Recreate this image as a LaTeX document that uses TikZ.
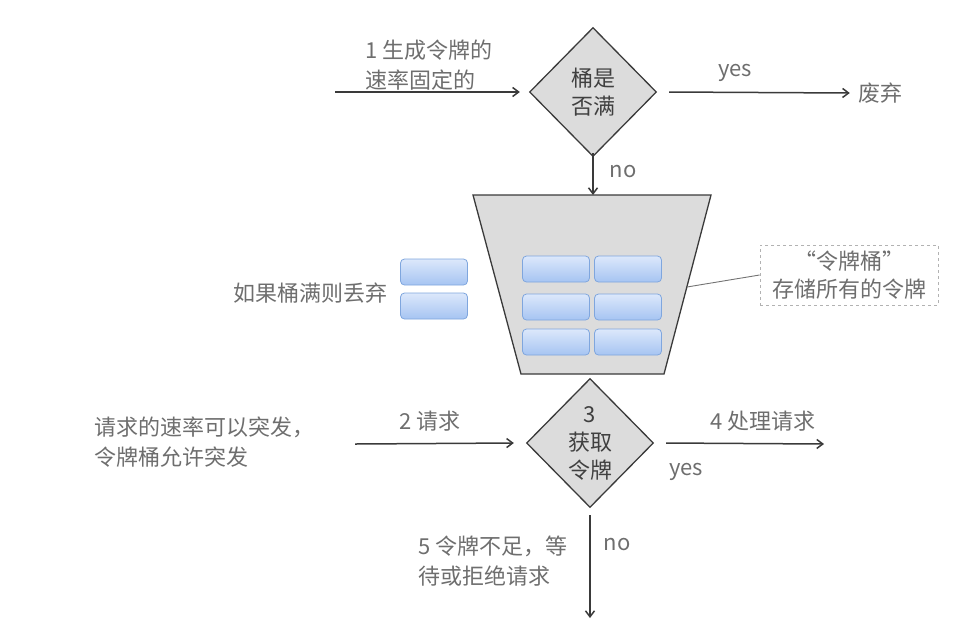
\documentclass[tikz,border=0pt]{standalone}
\usepackage{fontspec}
\newfontfamily\cjk{Noto Sans CJK SC}
\usetikzlibrary{shapes.geometric,arrows.meta}
\definecolor{inkline}{HTML}{3A3A3A}
\definecolor{labelgray}{HTML}{6E6E6E}
\definecolor{boxgray}{HTML}{DCDCDC}
\definecolor{tokentop}{HTML}{DCE8FB}
\definecolor{tokenbot}{HTML}{A6C4F2}
\definecolor{tokenedge}{HTML}{7FA6DE}
\tikzset{
  txt/.style={font=\cjk\fontsize{22}{29.5}\selectfont, text=labelgray, align=left, inner sep=0pt},
  decision/.style={diamond, draw=inkline, line width=1.3pt, fill=boxgray, aspect=1,
    minimum width=127pt, minimum height=129pt, inner sep=0pt,
    font=\cjk\fontsize{22}{28}\selectfont, text=black!75, align=center},
  flow/.style={draw=inkline, line width=1.5pt, -{Straight Barb[length=6pt,width=9pt,line width=1.5pt]}},
  token/.style={rectangle, rounded corners=4pt, draw=tokenedge, line width=0.8pt,
    top color=tokentop, bottom color=tokenbot, minimum width=67pt, minimum height=26pt, inner sep=0pt},
  callout/.style={draw=black!30, dashed, line width=0.8pt, inner sep=0pt,
    minimum width=178pt, minimum height=60pt, font=\cjk\fontsize{22}{28}\selectfont,
    text=labelgray, align=center}
}
\begin{document}
\begin{tikzpicture}[x=1pt,y=-1pt]
\useasboundingbox (0,0) rectangle (974,641);

% --- generation of tokens at a fixed rate ---
\node[decision] (full) at (593,92) {桶是\\否满};
\coordinate (genstart) at (335,92);
\draw[flow] (genstart) -- ([xshift=-9pt]full.west);
\node[txt] (genlbl) at (429,65) {1 生成令牌的\\速率固定的};

\node[txt] (discard) at (880,93) {废弃};
\draw[flow] ([xshift=12pt]full.east) -- ([xshift=-8pt]discard.west);
\node[txt] (yes1) at (735,73) {yes};

% --- the bucket ---
\coordinate (b-nw) at (473,195);
\coordinate (b-ne) at (711,195);
\coordinate (b-se) at (664,374);
\coordinate (b-sw) at (521,374);
\coordinate (b-n) at (593,195);
\coordinate (b-side) at (687,287);
\draw[draw=inkline, line width=1.3pt, fill=boxgray] (b-nw) -- (b-ne) -- (b-se) -- (b-sw) -- cycle;

\draw[flow] ([yshift=4pt]full.south) -- (b-n);
\node[txt] (no1) at (623,172) {no};

% tokens stored in the bucket
\node[token] (t11) at (556,269) {};
\node[token] (t12) at (628,269) {};
\node[token] (t21) at (556,307) {};
\node[token] (t22) at (628,307) {};
\node[token] (t31) at (556,342) {};
\node[token] (t32) at (628,342) {};

% tokens dropped when the bucket is full
\node[token] (d1) at (434,272) {};
\node[token] (d2) at (434,306) {};
\node[txt] (droplbl) at (310,293) {如果桶满则丢弃};

% callout
\node[callout] (note) at (849,275) {“令牌桶”\\存储所有的令牌};
\draw[draw=black!55, line width=0.9pt] (b-side) -- (note.west);

% --- requests ---
\node[decision] (take) at (590,443) {3\\获取\\令牌};
\coordinate (reqstart) at (355,444);
\draw[flow] (reqstart) -- ([xshift=-12pt]take.west);
\node[txt] (reqlbl) at (430,421) {2 请求};
\node[txt] (burst) at (204,442) {请求的速率可以突发，\\令牌桶允许突发};

\coordinate (okend) at (824,444);
\draw[flow] ([xshift=12pt]take.east) -- (okend);
\node[txt] (oklbl) at (763,421) {4 处理请求};
\node[txt] (yes2) at (686,472) {yes};

\coordinate (waitend) at (590,618);
\draw[flow] ([yshift=-7pt]take.south) -- (waitend);
\node[txt] (no2) at (617,545) {no};
\node[txt] (waitlbl) at (493,561) {5 令牌不足，等\\待或拒绝请求};
\end{tikzpicture}
\end{document}
